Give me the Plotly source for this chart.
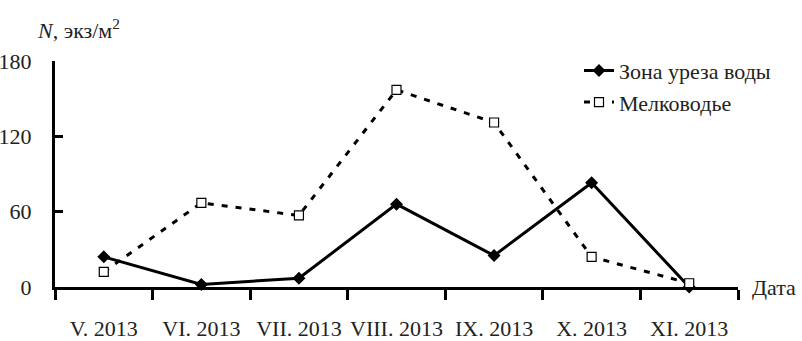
import plotly.graph_objects as go

categories = ["V. 2013", "VI. 2013", "VII. 2013", "VIII. 2013", "IX. 2013", "X. 2013", "XI. 2013"]
zona_ureza = [24, 2, 7, 66, 25, 83, 0]
melkovodye = [12, 67, 57, 157, 131, 24, 3]
y_ticks = [0, 60, 120, 180]

FONT = "Liberation Serif"

fig = go.Figure()
fig.add_trace(go.Scatter(
    x=categories, y=zona_ureza, name="Зона уреза воды",
    mode="lines+markers",
    line=dict(color="black", width=3),
    marker=dict(symbol="diamond", size=10, color="black"),
    cliponaxis=False,
))
fig.add_trace(go.Scatter(
    x=categories, y=melkovodye, name="Мелководье",
    mode="lines+markers",
    line=dict(color="black", width=3, dash="6px,8px"),
    marker=dict(symbol="square", size=9, color="white", line=dict(color="black", width=1.2)),
    cliponaxis=False,
))

fig.update_layout(
    width=802, height=341,
    margin=dict(l=55, r=64, t=61, b=54, autoexpand=False),
    paper_bgcolor="white", plot_bgcolor="white",
    font=dict(family=FONT, size=22, color="#222"),
    showlegend=True,
    legend=dict(x=(579 - 55) / 683, y=1.05, xanchor="left", yanchor="top",
                bgcolor="rgba(0,0,0,0)", font=dict(family=FONT, size=22),
                tracegroupgap=0, itemwidth=30),
    xaxis=dict(
        type="category", showline=True, linecolor="black", linewidth=3,
        showgrid=False, zeroline=False, automargin=False, tickangle=0,
        ticks="outside", ticklen=10, tickwidth=3, tickcolor="black",
        tickson="boundaries", ticklabelstandoff=20,
        tickfont=dict(family=FONT, size=22),
        range=[-0.5, 6.5],
    ),
    yaxis=dict(
        range=[0, 180], tickvals=y_ticks, ticktext=[str(v) for v in y_ticks],
        showline=True, linecolor="black", linewidth=3,
        showgrid=False, zeroline=False, automargin=False,
        ticks="inside", ticklen=8, tickwidth=3, tickcolor="black",
        ticklabelstandoff=16, tickfont=dict(family=FONT, size=22),
    ),
    annotations=[
        dict(text="<i>N</i>, экз/м<sup>2</sup>", xref="paper", yref="paper",
             x=(35 - 55) / 683, y=(287 - 29) / 226,
             showarrow=False, xanchor="left", yanchor="middle",
             font=dict(family=FONT, size=22)),
        dict(text="Дата", xref="paper", yref="y", x=(750 - 55) / 683, y=0,
             xanchor="left", yanchor="middle", showarrow=False,
             font=dict(family=FONT, size=22)),
    ],
)

fig.write_html("out.html", config={"displayModeBar": False},
               post_script="document.body.style.margin='0px';document.body.style.padding='0px';")
